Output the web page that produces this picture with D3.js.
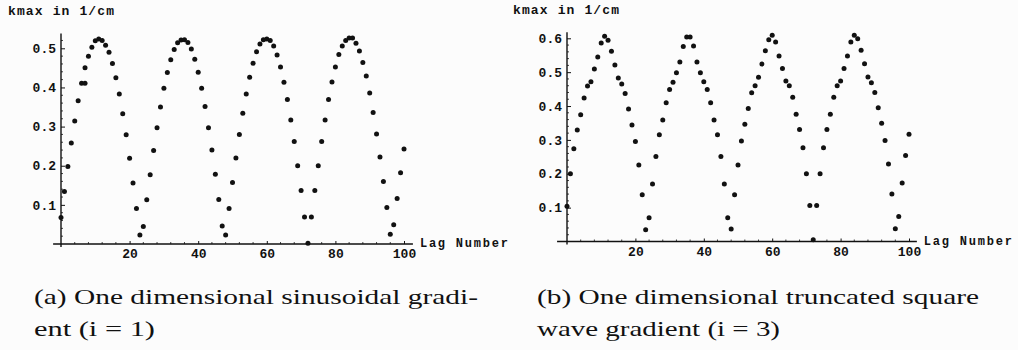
<!DOCTYPE html>
<html>
<head>
<meta charset="utf-8">
<script src="https://cdn.jsdelivr.net/npm/d3@7"></script>
<style>
  html, body { margin: 0; padding: 0; background: #fcfcfc; }
  svg { display: block; }
</style>
</head>
<body>
<svg id="chart" width="1018" height="350"></svg>
<script>
// lag numbers 0..100, one reading per lag
const lags = d3.range(0, 101);

// (a) sinusoidal gradient, kmax in 1/cm
const kmaxSine = [
  0.068, 0.134, 0.198, 0.258, 0.314, 0.366, 0.411, 0.450, 0.480, 0.503,
  0.519, 0.524, 0.520, 0.508, 0.490, 0.461, 0.425, 0.383, 0.333, 0.279,
  0.219, 0.156, 0.091, 0.023, 0.045, 0.113, 0.177, 0.239, 0.297, 0.350,
  0.398, 0.438, 0.471, 0.497, 0.514, 0.521, 0.522, 0.515, 0.498, 0.472,
  0.439, 0.398, 0.351, 0.297, 0.240, 0.178, 0.114, 0.046, 0.023, 0.091,
  0.157, 0.220, 0.280, 0.334, 0.383, 0.426, 0.462, 0.491, 0.511, 0.522,
  0.524, 0.520, 0.506, 0.483, 0.452, 0.413, 0.369, 0.317, 0.262, 0.200,
  0.137, 0.069, 0.002, 0.069, 0.137, 0.200, 0.262, 0.317, 0.369, 0.414,
  0.452, 0.484, 0.506, 0.520, 0.526, 0.526, 0.513, 0.493, 0.464, 0.429,
  0.386, 0.336, 0.281, 0.222, 0.160, 0.093, 0.025, 0.049, 0.116, 0.182,
  0.243
];
// a second dot drawn next to lag 7 in (a)
const extraLagSine = [7];
const extraKmaxSine = [0.411];

// (b) truncated square wave gradient
const kmaxSquare = [
  0.104, 0.200, 0.274, 0.329, 0.374, 0.424, 0.459, 0.472, 0.509, 0.545,
  0.586, 0.606, 0.594, 0.562, 0.521, 0.483, 0.465, 0.437, 0.391, 0.344,
  0.295, 0.226, 0.138, 0.035, 0.070, 0.170, 0.251, 0.315, 0.359, 0.410,
  0.449, 0.470, 0.498, 0.530, 0.576, 0.604, 0.604, 0.577, 0.530, 0.498,
  0.472, 0.449, 0.410, 0.359, 0.315, 0.251, 0.170, 0.070, 0.037, 0.138,
  0.226, 0.297, 0.346, 0.393, 0.439, 0.460, 0.485, 0.524, 0.563, 0.596,
  0.609, 0.589, 0.548, 0.511, 0.474, 0.460, 0.426, 0.376, 0.331, 0.277,
  0.200, 0.106, 0.005, 0.106, 0.200, 0.277, 0.331, 0.376, 0.426, 0.460,
  0.474, 0.511, 0.548, 0.589, 0.609, 0.599, 0.565, 0.525, 0.486, 0.469,
  0.440, 0.395, 0.349, 0.298, 0.229, 0.140, 0.038, 0.074, 0.173, 0.254,
  0.317
];
const extraLagSquare = [];
const extraKmaxSquare = [];

const xTicks = [20, 40, 60, 80, 100];
const yTicksSine = [0.1, 0.2, 0.3, 0.4, 0.5];
const yTicksSquare = [0.1, 0.2, 0.3, 0.4, 0.5, 0.6];

const yLabel = 'kmax in 1/cm';
const xLabel = 'Lag Number';
const captionA = ['(a) One dimensional sinusoidal gradi-', 'ent (i = 1)'];
const captionB = ['(b) One dimensional truncated square', 'wave gradient (i = 3)'];

const svg = d3.select('#chart');
const INK = '#111';
const MONO = '"Liberation Mono", "DejaVu Sans Mono", monospace';
const SERIF = '"Liberation Serif", "DejaVu Serif", serif';

function toPoints(xs, ys) {
  return xs.map((x, i) => ({ lag: x, k: ys[i] }));
}

function drawPanel(p) {
  const g = svg.append('g');
  const x = d3.scaleLinear().domain([0, 100]).range(p.xRange);
  const y = d3.scaleLinear().domain(p.yDomain).range(p.yRange);

  // axis lines (Mathematica style, crossing at the origin)
  g.append('line')
    .attr('x1', x(p.xExtent[0])).attr('x2', x(p.xExtent[1]))
    .attr('y1', y(0)).attr('y2', y(0))
    .attr('stroke', INK).attr('stroke-width', 1.4);
  g.append('line')
    .attr('x1', x(0)).attr('x2', x(0))
    .attr('y1', y(0) + 3).attr('y2', y(p.yTop))
    .attr('stroke', INK).attr('stroke-width', 1.4);

  // minor ticks
  const minorY = d3.range(0.02, p.yTop, 0.02).filter(v => !p.yTicks.some(t => Math.abs(t - v) < 1e-6));
  g.selectAll('line.ymin').data(minorY).enter().append('line')
    .attr('class', 'ymin')
    .attr('x1', x(0)).attr('x2', x(0) + 2)
    .attr('y1', d => y(d)).attr('y2', d => y(d))
    .attr('stroke', INK).attr('stroke-width', 0.8);
  const minorX = d3.range(4, 101, 4).filter(v => v % 20 !== 0);
  g.selectAll('line.xmin').data(minorX).enter().append('line')
    .attr('class', 'xmin')
    .attr('x1', d => x(d)).attr('x2', d => x(d))
    .attr('y1', y(0)).attr('y2', y(0) - 2)
    .attr('stroke', INK).attr('stroke-width', 0.8);

  // major ticks + labels
  const yAxis = d3.axisLeft(y).tickValues(p.yTicks).tickSize(-4).tickPadding(5)
    .tickFormat(d3.format('.1f'));
  const ya = g.append('g').attr('transform', `translate(${x(0)},0)`).call(yAxis);
  const xAxis = d3.axisBottom(x).tickValues(xTicks).tickSize(-3).tickPadding(5)
    .tickFormat(d3.format('d'));
  const xa = g.append('g').attr('transform', `translate(0,${y(0)})`).call(xAxis);
  [ya, xa].forEach(a => {
    a.select('.domain').remove();
    a.selectAll('line').attr('stroke', INK).attr('stroke-width', 1);
    a.selectAll('text')
      .attr('fill', INK)
      .style('font-family', MONO)
      .style('font-weight', 'bold')
      .style('font-size', '13px');
  });

  // axis labels
  g.append('text')
    .attr('x', p.yLabelPos[0]).attr('y', p.yLabelPos[1])
    .attr('textLength', 106).attr('lengthAdjust', 'spacing')
    .attr('fill', INK)
    .style('font-family', MONO).style('font-weight', 'bold').style('font-size', '13px')
    .text(yLabel);
  g.append('text')
    .attr('x', x(p.xExtent[1]) + 7).attr('y', y(0) + 3)
    .attr('textLength', 88).attr('lengthAdjust', 'spacing')
    .attr('fill', INK)
    .style('font-family', MONO).style('font-weight', 'bold').style('font-size', '12px')
    .text(xLabel);

  // data dots
  const pts = toPoints(lags, p.values).concat(toPoints(p.extraLags, p.extraValues));
  g.selectAll('circle.dot').data(pts).enter().append('circle')
    .attr('class', 'dot')
    .attr('cx', d => x(d.lag))
    .attr('cy', d => y(d.k))
    .attr('r', 2.5)
    .attr('fill', INK);

  // caption lines, glyphs widened to the measured line extents
  g.selectAll('text.cap').data(p.caption).enter().append('text')
    .attr('class', 'cap')
    .attr('x', p.capX)
    .attr('y', (d, i) => 304 + i * 32)
    .attr('textLength', (d, i) => p.capWidths[i])
    .attr('lengthAdjust', 'spacingAndGlyphs')
    .attr('fill', INK)
    .style('font-family', SERIF).style('font-size', '22px')
    .text(d => d);
}

drawPanel({
  values: kmaxSine, extraLags: extraLagSine, extraValues: extraKmaxSine,
  xRange: [61, 404], yDomain: [0, 0.5], yRange: [244, 48.3], yTop: 0.538,
  xExtent: [-2.3, 102.6], yTicks: yTicksSine, yLabelPos: [8, 15],
  caption: captionA, capX: 34, capWidths: [444, 121]
});
drawPanel({
  values: kmaxSquare, extraLags: extraLagSquare, extraValues: extraKmaxSquare,
  xRange: [567, 909], yDomain: [0, 0.6], yRange: [241.5, 38.3], yTop: 0.618,
  xExtent: [-2.9, 102.3], yTicks: yTicksSquare, yLabelPos: [513, 14],
  caption: captionB, capX: 537, capWidths: [442, 243]
});
</script>
</body>
</html>
